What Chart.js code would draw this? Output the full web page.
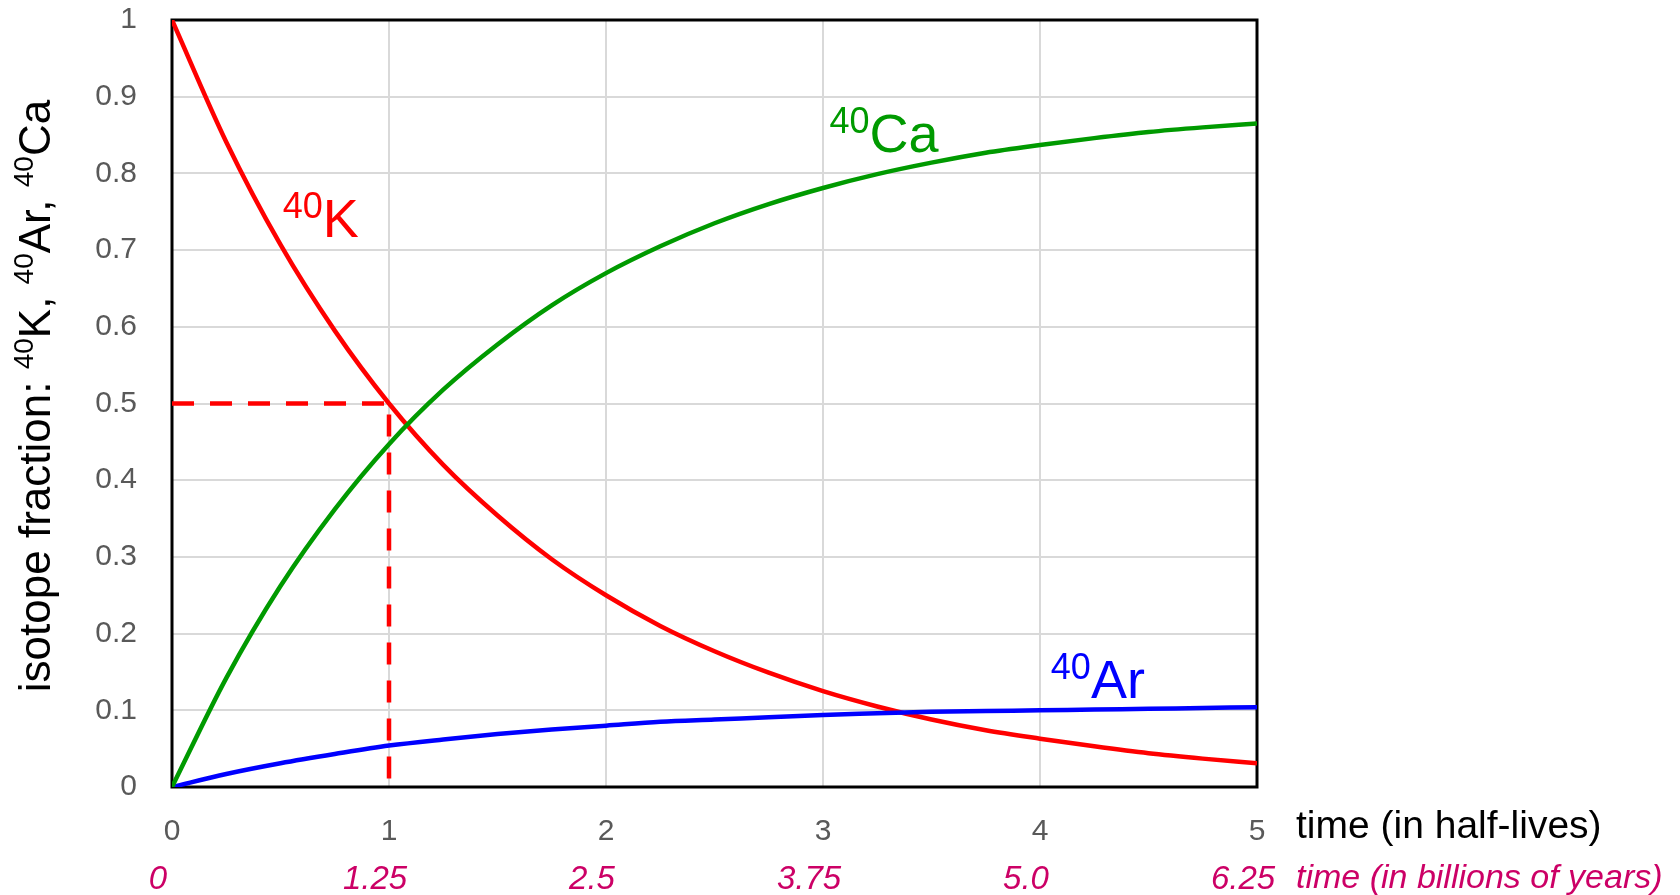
<!DOCTYPE html>
<html>
<head>
<meta charset="utf-8">
<script src="https://cdn.jsdelivr.net/npm/chart.js@4.4.1/dist/chart.umd.min.js"></script>
<style>
  html, body { margin: 0; padding: 0; background: #fff; }
  #wrap { width: 1680px; height: 895px; position: relative; }
</style>
</head>
<body>
<div id="wrap"><canvas id="decayChart"></canvas></div>
<script>
// tempo em meias-vidas
const halfLives = [0, 0.25, 0.5, 0.75, 1, 1.25, 1.5, 1.75, 2, 2.25, 2.5, 2.75, 3, 3.25, 3.5, 3.75, 4, 4.25, 4.5, 4.75, 5];
// frações
const potassium40 = [1, 0.841, 0.707, 0.595, 0.5, 0.42, 0.354, 0.297, 0.25, 0.21, 0.177, 0.149, 0.125, 0.105, 0.088, 0.074, 0.063, 0.053, 0.044, 0.037, 0.031];
const calcium40 = [0, 0.142, 0.262, 0.362, 0.447, 0.518, 0.577, 0.628, 0.67, 0.705, 0.735, 0.76, 0.781, 0.799, 0.814, 0.827, 0.837, 0.846, 0.854, 0.86, 0.865];
const argon40 = [0, 0.017, 0.031, 0.043, 0.054, 0.062, 0.069, 0.075, 0.08, 0.085, 0.088, 0.091, 0.094, 0.096, 0.098, 0.099, 0.1, 0.101, 0.102, 0.103, 0.104];

// linha tracejada da meia-vida
const guideX = [0, 1, 1];
const guideY = [0.5, 0.5, 0];

const xTickLabels = ['0', '1', '2', '3', '4', '5'];
const yTickLabels = ['0', '0.1', '0.2', '0.3', '0.4', '0.5', '0.6', '0.7', '0.8', '0.9', '1'];
const billionYearLabels = ['0', '1.25', '2.5', '3.75', '5.0', '6.25'];

const FONT = "'Liberation Sans', Arial, sans-serif";
const RED = '#FF0000', GREEN = '#009A00', BLUE = '#0000FF', CRIMSON = '#CC0066', GRAY = '#595959';

const toPoints = (xs, ys) => xs.map((x, i) => ({ x: x, y: ys[i] }));

// rótulos dentro do gráfico (posição em unidades dos eixos)
const curveLabels = [
    { sup: '40', el: 'K', color: RED, at: [0.51, 0.717] },
    { sup: '40', el: 'Ca', color: GREEN, at: [3.03, 0.828] },
    { sup: '40', el: 'Ar', color: BLUE, at: [4.05, 0.116] }
];

// desenha texto com sobrescritos, alinhado à esquerda na linha de base
function drawRich(ctx, parts, x, y, measureOnly) {
    let cx = x;
    parts.forEach(p => {
        ctx.font = (p.italic ? 'italic ' : '') + p.size + 'px ' + FONT;
        if (!measureOnly) ctx.fillText(p.t, cx, y - (p.rise || 0));
        cx += ctx.measureText(p.t).width;
    });
    return cx - x;
}

const decorPlugin = {
    id: 'decor',
    beforeDatasetsDraw(chart) {
        const { ctx, chartArea: a } = chart;
        ctx.save();
        ctx.strokeStyle = '#000';
        ctx.lineWidth = 3;
        ctx.strokeRect(a.left, a.top, a.right - a.left, a.bottom - a.top);
        ctx.restore();
    },
    afterDraw(chart) {
        const { ctx, chartArea: a } = chart;
        const xs = chart.scales.x, ys = chart.scales.y;
        ctx.save();
        ctx.textBaseline = 'alphabetic';

        curveLabels.forEach(l => {
            ctx.fillStyle = l.color;
            drawRich(ctx, [
                { t: l.sup, size: 36, rise: 19 },
                { t: l.el, size: 54 }
            ], xs.getPixelForValue(l.at[0]), ys.getPixelForValue(l.at[1]));
        });

        // título do eixo y
        const yTitle = [
            { t: 'isotope fraction: ', size: 44 },
            { t: '40', size: 28, rise: 17 }, { t: 'K, ', size: 44 },
            { t: '40', size: 28, rise: 17 }, { t: 'Ar, ', size: 44 },
            { t: '40', size: 28, rise: 17 }, { t: 'Ca', size: 44 }
        ];
        ctx.fillStyle = '#000';
        ctx.translate(50, 396);
        ctx.rotate(-Math.PI / 2);
        const w = drawRich(ctx, yTitle, 0, 0, true);
        drawRich(ctx, yTitle, -w / 2, 0);
        ctx.setTransform(1, 0, 0, 1, 0, 0);

        // títulos do eixo x
        ctx.textBaseline = 'middle';
        ctx.fillStyle = '#000';
        ctx.font = '39px ' + FONT;
        ctx.fillText('time (in half-lives)', a.right + 39, 827);
        ctx.fillStyle = CRIMSON;
        ctx.font = 'italic 34px ' + FONT;
        ctx.fillText('time (in billions of years)', a.right + 39, 879);
        ctx.restore();
    }
};

const ctx = document.getElementById('decayChart').getContext('2d');
new Chart(ctx, {
    type: 'line',
    data: {
        datasets: [
            {
                label: 'half-life guide',
                data: toPoints(guideX, guideY),
                borderColor: RED,
                borderWidth: 4.5,
                borderDash: [22, 16],
                pointRadius: 0,
                tension: 0
            },
            {
                label: '40Ca',
                data: toPoints(halfLives, calcium40),
                borderColor: GREEN,
                borderWidth: 4.5,
                pointRadius: 0,
                cubicInterpolationMode: 'monotone'
            },
            {
                label: '40Ar',
                data: toPoints(halfLives, argon40),
                borderColor: BLUE,
                borderWidth: 4.5,
                pointRadius: 0,
                cubicInterpolationMode: 'monotone'
            },
            {
                label: '40K',
                data: toPoints(halfLives, potassium40),
                borderColor: RED,
                borderWidth: 4.5,
                pointRadius: 0,
                cubicInterpolationMode: 'monotone'
            }
        ]
    },
    options: {
        responsive: true,
        maintainAspectRatio: false,
        animation: false,
        layout: { padding: { left: 0, top: 20, right: 423, bottom: 0 } },
        plugins: { legend: { display: false }, tooltip: { enabled: false } },
        scales: {
            x: {
                type: 'linear', position: 'bottom', min: 0, max: 5, weight: 0,
                grid: { color: '#D9D9D9', lineWidth: 2, drawTicks: false },
                border: { display: false },
                ticks: {
                    stepSize: 1, autoSkip: false, maxRotation: 0, padding: 27,
                    color: GRAY, font: { family: FONT, size: 30 },
                    callback: (v) => xTickLabels[Math.round(v)]
                },
                afterFit: (s) => { s.height = 60; }
            },
            x2: {
                type: 'linear', position: 'bottom', min: 0, max: 6.25, weight: 1,
                grid: { display: false, drawTicks: false },
                border: { display: false },
                ticks: {
                    stepSize: 1.25, autoSkip: false, maxRotation: 0, padding: 13, labelOffset: -14,
                    color: CRIMSON, font: { family: FONT, size: 33, style: 'italic' },
                    callback: (v) => billionYearLabels[Math.round(v / 1.25)]
                },
                afterFit: (s) => { s.height = 48; }
            },
            y: {
                type: 'linear', min: 0, max: 1,
                grid: { color: '#D9D9D9', lineWidth: 2, drawTicks: false },
                border: { display: false },
                ticks: {
                    stepSize: 0.1, padding: 35,
                    color: GRAY, font: { family: FONT, size: 30 },
                    callback: (v) => yTickLabels[Math.round(v * 10)]
                },
                afterFit: (s) => { s.width = 172; s.paddingTop = 0; s.paddingBottom = 0; }
            }
        }
    },
    plugins: [decorPlugin]
});
</script>
</body>
</html>
